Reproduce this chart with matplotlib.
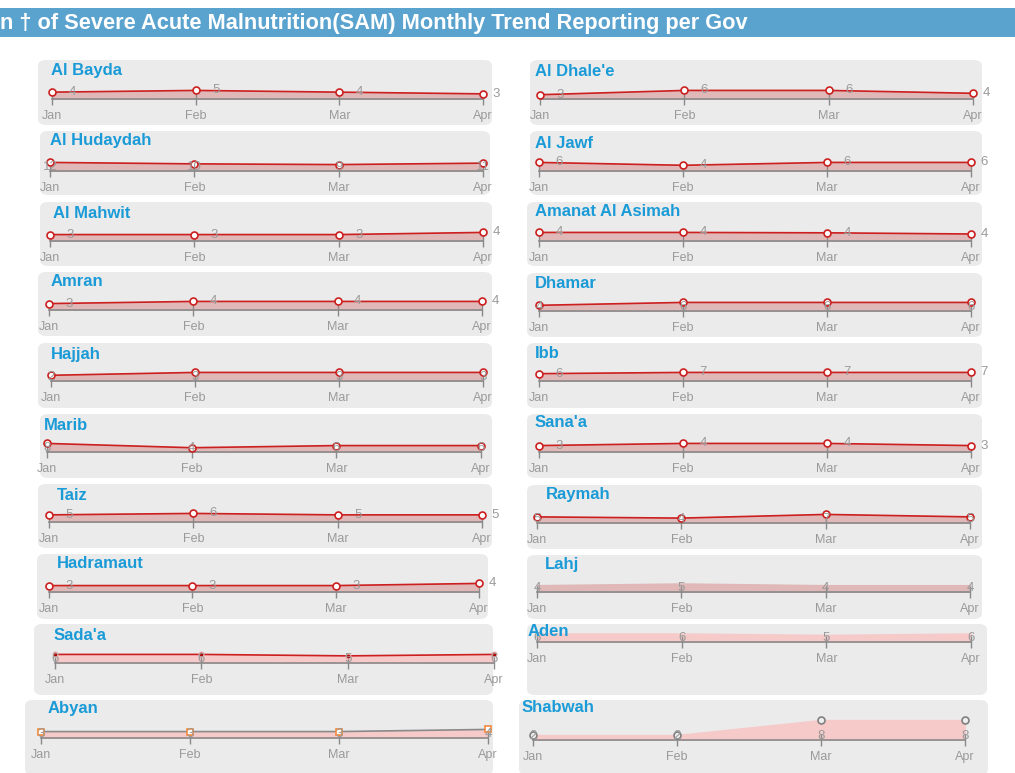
import matplotlib
matplotlib.use('Agg')
import matplotlib.pyplot as plt
from matplotlib.patches import FancyBboxPatch, Rectangle

W, H = 1015, 773

months = ['Jan', 'Feb', 'Mar', 'Apr']

# governorates and their monthly values
al_bayda = [4, 5, 4, 3]
al_dhalee = [3, 6, 6, 4]
al_hudaydah = [12, 10, 9, 11]
al_jawf = [6, 4, 6, 6]
al_mahwit = [3, 3, 3, 4]
amanat = [4.4, 4.4, 4.2, 3.6]
amran = [3, 4, 4, 4]
dhamar = [4, 6, 6, 6]
hajjah = [2, 3, 3, 3]
ibb = [6, 7, 7, 7]
marib = [8, 4, 6, 6]
sanaa = [3, 4, 4, 3]
taiz = [5, 6, 5, 5]
raymah = [5, 4, 7, 5]
hadramaut = [3, 3, 3, 4]
lahj = [4, 5, 4, 4]
sadaa = [6, 6, 5, 6]
aden = [6, 6, 5, 6]
abyan = [3, 3, 3, 4]
shabwah = [2, 2, 8, 8]

# name, values, label mode, style,
# box (x0, top, x1, bottom), axis (jan_x, apr_x, baseline), title (x, y)
panels = [
    ('Al Bayda', al_bayda, 'side', 'red', (38, 60, 492, 125), (52, 483, 99), (51, 71)),
    ('Al Hudaydah', al_hudaydah, 'mid', 'red', (40, 131, 490, 195), (50, 483, 171), (50, 141)),
    ('Al Mahwit', al_mahwit, 'side', 'red', (40, 202, 492, 266), (50, 483, 241), (53, 213)),
    ('Amran', amran, 'side', 'red', (38, 272, 492, 336), (49, 482, 310), (51, 282)),
    ('Hajjah', hajjah, 'mid', 'red', (38, 343, 492, 408), (51, 483, 381), (51, 354)),
    ('Marib', marib, 'mid', 'red', (40, 414, 492, 478), (47, 481, 452), (44, 426)),
    ('Taiz', taiz, 'side', 'red', (38, 484, 492, 548), (49, 482, 522), (57, 495)),
    ('Hadramaut', hadramaut, 'side', 'red', (37, 554, 488, 619), (49, 479, 592), (57, 564)),
    ("Sada'a", sadaa, 'mid', 'dot', (34, 624, 493, 695), (55, 494, 663), (54, 636)),
    ('Abyan', abyan, 'mid', 'square', (25, 700, 493, 775), (41, 488, 738), (48, 708)),
    ("Al Dhale'e", al_dhalee, 'side', 'red', (530, 60, 982, 125), (540, 973, 99), (535, 71)),
    ('Al Jawf', al_jawf, 'side', 'red', (530, 131, 982, 195), (539, 971, 171), (535, 143)),
    ('Amanat Al Asimah', amanat, 'side', 'red', (527, 202, 982, 266), (539, 971, 241), (535, 211)),
    ('Dhamar', dhamar, 'mid', 'red', (527, 273, 982, 337), (539, 971, 311), (535, 284)),
    ('Ibb', ibb, 'side', 'red', (527, 343, 982, 408), (539, 971, 381), (535, 353)),
    ("Sana'a", sanaa, 'side', 'red', (527, 414, 982, 478), (539, 971, 452), (535, 423)),
    ('Raymah', raymah, 'mid', 'red', (527, 485, 982, 549), (537, 970, 523), (546, 495)),
    ('Lahj', lahj, 'mid', 'fill', (527, 555, 982, 619), (537, 970, 592), (545, 565)),
    ('Aden', aden, 'mid', 'fill2', (527, 624, 987, 695), (537, 971, 642), (528, 631)),
    ('Shabwah', shabwah, 'mid', 'grey', (519, 700, 988, 775), (533, 965, 740), (522, 708)),
]

sans = ['Liberation Sans', 'DejaVu Sans']
grey_txt = '#9a9a9a'

fig = plt.figure(figsize=(W / 100, H / 100), dpi=100)

# header bar
fig.patches.append(Rectangle((0, 1 - 37 / H), 1, 29 / H, transform=fig.transFigure,
                             facecolor='#5ba3cf', edgecolor='none', zorder=-2))
fig.text(0, 1 - 23 / H, 'n \u2020 of Severe Acute Malnutrition(SAM) Monthly Trend Reporting per Gov',
         color='white', fontsize=15.7, fontweight='bold', va='center', ha='left',
         family=sans)

ax_h = 30
for name, vals, mode, style, box, axis, tpos in panels:
    x0, top, x1, bot = box
    fig.patches.append(FancyBboxPatch((x0 / W, 1 - bot / H), (x1 - x0) / W, (bot - top) / H,
                                      boxstyle='round,pad=0,rounding_size=0.008',
                                      transform=fig.transFigure, facecolor='#ebebeb',
                                      edgecolor='none', zorder=-2))
    fig.text(tpos[0] / W, 1 - tpos[1] / H, name, color='#1a9bd7', fontsize=12,
             fontweight='bold', va='center', ha='left', family=sans)

    jx, ax_, base = axis
    ax = fig.add_axes([jx / W, 1 - base / H, (ax_ - jx) / W, ax_h / H])
    ax.patch.set_alpha(0)
    xs = list(range(len(months)))
    fac = 1.5 if name == 'Shabwah' else 3.5
    ax.set_xlim(0, 3)
    ax.set_ylim(0, max(vals) * fac)
    for s in ['top', 'left', 'right']:
        ax.spines[s].set_visible(False)
    ax.spines['bottom'].set_color('#8a8a8a')
    ax.spines['bottom'].set_linewidth(1.2)
    ax.set_yticks([])
    ax.set_xticks(xs)
    ax.set_xticklabels(months, family=sans, fontsize=9, color=grey_txt)
    ax.tick_params(axis='x', direction='inout', length=9, width=1, color='#8a8a8a', pad=3.5)

    if style == 'red':
        ax.fill_between(xs, vals, color='#e0b8b8', zorder=1)
        ax.plot(xs, vals, color='#cc1f1f', lw=1.2, marker='o', ms=5, mfc='white',
                mec='#cc1f1f', mew=1.2, clip_on=False, zorder=3)
    elif style == 'dot':
        ax.fill_between(xs, vals, color='#f7caca', zorder=1)
        ax.plot(xs, vals, color='#cc1f1f', lw=1.2, marker='o', ms=3.5, mfc='#b00000',
                mec='#f0b0b0', mew=0.8, clip_on=False, zorder=3)
    elif style == 'square':
        ax.fill_between(xs, vals, color='#f7caca', zorder=1)
        ax.plot(xs, vals, color='#8a8a8a', lw=1.2, marker='s', ms=5, mfc='white',
                mec='#f28a3c', mew=1.2, clip_on=False, zorder=3)
    elif style == 'fill':
        ax.fill_between(xs, vals, color='#e0b8b8', zorder=1)
    elif style == 'fill2':
        ax.fill_between(xs, vals, color='#f7caca', zorder=1)
    elif style == 'grey':
        ax.fill_between(xs, vals, color='#f7caca', zorder=1)
        ax.plot(xs, vals, ls='none', marker='o', ms=5, mfc='#eeeeee', mec='#808080',
                mew=1.2, clip_on=False, zorder=3)

    for i, v in enumerate(vals):
        lab = str(int(round(v)))
        if mode == 'side':
            dx = 13 if i == 3 else 20
            ax.annotate(lab, (xs[i], v), xytext=(dx * 0.72, 0), textcoords='offset points',
                        ha='center', va='center', fontsize=9.5, color=grey_txt,
                        family=sans, annotation_clip=False)
        else:
            ax.annotate(lab, (xs[i], 0), xytext=(0, 4 * 0.72), textcoords='offset points',
                        ha='center', va='center', fontsize=9.5, color=grey_txt,
                        family=sans, annotation_clip=False)

fig.savefig('out.png', dpi=100)
